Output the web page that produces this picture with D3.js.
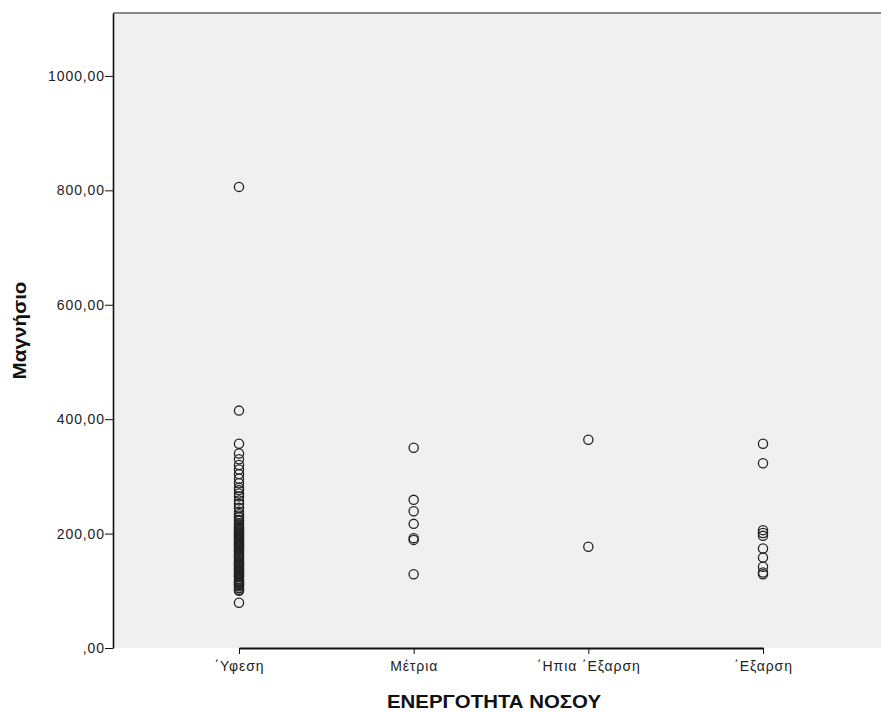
<!DOCTYPE html>
<html lang="el">
<head>
<meta charset="UTF-8">
<title>Μαγνήσιο</title>
<script src="https://d3js.org/d3.v7.min.js"></script>
<style>
  body { margin: 0; background: #fff; }
  svg { display: block; font-family: "Liberation Sans", Arial, sans-serif; }
  .tick text { font-size: 14px; fill: #222; letter-spacing: 0.9px; }
  .axis-title { font-size: 19px; font-weight: bold; fill: #111; }
</style>
</head>
<body>
<svg width="881" height="713"></svg>
<script>
  // categories and values
  const categories = ["\u0384Υφεση", "Μέτρια", "\u0384Ηπια \u0384Εξαρση", "\u0384Εξαρση"];
  const yTicks = [0, 200, 400, 600, 800, 1000];

  const yfesi = [806, 415, 357, 340, 330, 320, 312, 304, 296, 288, 280, 276, 270, 265, 258, 252,
    245, 238, 234, 230, 228, 224, 222, 218, 216, 212, 210, 208, 206, 204, 202, 200, 198, 196,
    194, 192, 190, 188, 186, 184, 182, 180, 178, 176, 174, 172, 170, 168, 165, 162, 160, 158,
    156, 152, 150, 148, 146, 144, 142, 140, 138, 136, 134, 132, 130, 128, 126, 124, 120, 118,
    116, 114, 112, 110, 108, 105, 102, 100, 79];
  const metria = [350, 259, 239, 217, 192, 189, 129];
  const ipiaExarsi = [364, 177];
  const exarsi = [357, 323, 206, 201, 196, 174, 158, 142, 132, 129];

  const seriesByCat = [yfesi, metria, ipiaExarsi, exarsi];
  const points = [];
  seriesByCat.forEach((vals, i) => vals.forEach(v => points.push({cat: categories[i], v})));

  const svg = d3.select("svg"),
      margin = {top: 13, right: 0, bottom: 65, left: 113},
      width = 881 - margin.left - margin.right,
      height = 713 - margin.top - margin.bottom,
      g = svg.append("g").attr("transform", `translate(${margin.left},${margin.top})`);

  const x = d3.scalePoint().domain(categories).range([126, 650]);
  const y = d3.scaleLinear().domain([0, 1110]).range([height, 0]);

  g.append("rect")
      .attr("width", width + 10)
      .attr("height", height)
      .attr("fill", "#f0f0f0");

  // top frame
  g.append("line")
      .attr("x1", 0).attr("x2", width + 10)
      .attr("y1", 0).attr("y2", 0)
      .attr("stroke", "#888").attr("stroke-width", 2);

  g.selectAll("circle.pt")
    .data(points)
    .join("circle")
      .attr("class", "pt")
      .attr("cx", d => x(d.cat))
      .attr("cy", d => y(d.v))
      .attr("r", 4.6)
      .attr("fill", "none")
      .attr("stroke", "#222")
      .attr("stroke-width", 1.3);

  const fmt = v => (v === 0 ? "" : String(v)) + ",00";

  const yAxis = g.append("g")
      .call(d3.axisLeft(y).tickValues(yTicks).tickFormat(fmt).tickSize(8).tickPadding(0).tickSizeOuter(0));
  yAxis.select(".domain").attr("stroke", "#111").attr("stroke-width", 1.6);
  yAxis.selectAll(".tick line").attr("stroke", "#111");

  const xAxis = g.append("g")
      .attr("transform", `translate(0,${height})`)
      .call(d3.axisBottom(x).tickSize(6).tickPadding(7).tickSizeOuter(0));
  xAxis.select(".domain").attr("stroke", "#111").attr("stroke-width", 2);
  xAxis.selectAll(".tick line").attr("stroke", "#111");

  svg.append("text")
      .attr("class", "axis-title")
      .attr("x", 494)
      .attr("y", 708)
      .attr("text-anchor", "middle")
      .attr("textLength", 214)
      .attr("lengthAdjust", "spacingAndGlyphs")
      .text("ΕΝΕΡΓΟΤΗΤΑ ΝΟΣΟΥ");

  svg.append("text")
      .attr("class", "axis-title")
      .attr("transform", `translate(26,${margin.top + height / 2}) rotate(-90)`)
      .attr("text-anchor", "middle")
      .attr("textLength", 98)
      .attr("lengthAdjust", "spacingAndGlyphs")
      .text("Μαγνήσιο");
</script>
</body>
</html>
